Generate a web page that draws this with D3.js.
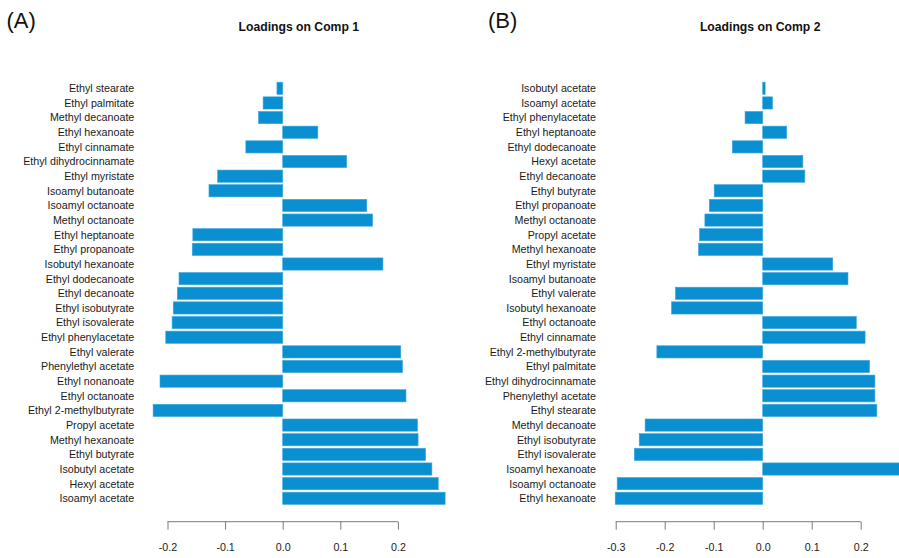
<!DOCTYPE html>
<html>
<head>
<meta charset="utf-8">
<script src="https://cdn.jsdelivr.net/npm/d3@7"></script>
<style>
  html, body { margin: 0; padding: 0; background: #fff; }
  svg { display: block; font-family: "Liberation Sans", Arial, sans-serif; }
</style>
</head>
<body>
<svg id="chart" width="899" height="558"></svg>
<script>
// Loadings on component 1 (top to bottom)
const comp1Names = [
  "Ethyl stearate", "Ethyl palmitate", "Methyl decanoate", "Ethyl hexanoate",
  "Ethyl cinnamate", "Ethyl dihydrocinnamate", "Ethyl myristate", "Isoamyl butanoate",
  "Isoamyl octanoate", "Methyl octanoate", "Ethyl heptanoate", "Ethyl propanoate",
  "Isobutyl hexanoate", "Ethyl dodecanoate", "Ethyl decanoate", "Ethyl isobutyrate",
  "Ethyl isovalerate", "Ethyl phenylacetate", "Ethyl valerate", "Phenylethyl acetate",
  "Ethyl nonanoate", "Ethyl octanoate", "Ethyl 2-methylbutyrate", "Propyl acetate",
  "Methyl hexanoate", "Ethyl butyrate", "Isobutyl acetate", "Hexyl acetate", "Isoamyl acetate"
];
const comp1Values = [
  -0.010, -0.034, -0.042, 0.061,
  -0.064, 0.111, -0.113, -0.128,
  0.146, 0.156, -0.156, -0.157,
  0.174, -0.180, -0.183, -0.190,
  -0.192, -0.203, 0.205, 0.208,
  -0.213, 0.214, -0.225, 0.234,
  0.235, 0.248, 0.259, 0.270, 0.282
];
const comp1Ticks = [-0.2, -0.1, 0.0, 0.1, 0.2];

// Loadings on component 2 (top to bottom)
const comp2Names = [
  "Isobutyl acetate", "Isoamyl acetate", "Ethyl phenylacetate", "Ethyl heptanoate",
  "Ethyl dodecanoate", "Hexyl acetate", "Ethyl decanoate", "Ethyl butyrate",
  "Ethyl propanoate", "Methyl octanoate", "Propyl acetate", "Methyl hexanoate",
  "Ethyl myristate", "Isoamyl butanoate", "Ethyl valerate", "Isobutyl hexanoate",
  "Ethyl octanoate", "Ethyl cinnamate", "Ethyl 2-methylbutyrate", "Ethyl palmitate",
  "Ethyl dihydrocinnamate", "Phenylethyl acetate", "Ethyl stearate", "Methyl decanoate",
  "Ethyl isobutyrate", "Ethyl isovalerate", "Isoamyl hexanoate", "Isoamyl octanoate",
  "Ethyl hexanoate"
];
const comp2Values = [
  0.005, 0.020, -0.036, 0.049,
  -0.062, 0.082, 0.086, -0.099,
  -0.109, -0.118, -0.129, -0.131,
  0.143, 0.174, -0.178, -0.186,
  0.191, 0.209, -0.216, 0.218,
  0.229, 0.229, 0.233, -0.240,
  -0.252, -0.262, 0.300, -0.297,
  -0.301
];
const comp2Ticks = [-0.3, -0.2, -0.1, 0.0, 0.1, 0.2];

const svg = d3.select("#chart");
const barColor = "#0A8FD1";
const axisColor = "#7a7a7a";
const textColor = "#1a1a1a";

function panel(cfg) {
  const g = svg.append("g");

  const x = d3.scaleLinear().domain(cfg.domain).range(cfg.range);
  const y = d3.scalePoint().domain(cfg.names).range([88.3, 498.3]);
  const bh = y.step() / 1.2;

  const data = cfg.names.map((n, i) => ({ name: n, value: cfg.values[i] }));

  g.selectAll("rect.bar").data(data).enter().append("rect")
    .attr("class", "bar")
    .attr("x", d => Math.min(x(0), x(d.value)))
    .attr("width", d => Math.abs(x(d.value) - x(0)))
    .attr("y", d => y(d.name) - bh / 2)
    .attr("height", bh)
    .attr("fill", barColor)
    .attr("stroke", "#3aa6dc")
    .attr("stroke-width", 0.6);

  g.selectAll("text.lab").data(data).enter().append("text")
    .attr("class", "lab")
    .attr("x", cfg.labelX)
    .attr("y", d => y(d.name))
    .attr("dy", "0.36em")
    .attr("text-anchor", "end")
    .attr("font-size", "10.7px")
    .attr("fill", textColor)
    .text(d => d.name);

  // value axis below the bars
  const axisY = 521.7;
  const axis = d3.axisBottom(x)
    .tickValues(cfg.ticks)
    .tickFormat(d3.format(".1f"))
    .tickSize(8)
    .tickPadding(14);
  const ag = g.append("g").attr("transform", `translate(0,${axisY})`).call(axis);
  ag.select(".domain").attr("stroke", axisColor).attr("d",
    `M${x(cfg.ticks[0])},0H${x(cfg.ticks[cfg.ticks.length - 1])}`);
  ag.selectAll(".tick line").attr("stroke", axisColor);
  ag.selectAll(".tick text")
    .attr("font-size", "10.7px")
    .attr("font-family", "Liberation Sans, Arial, sans-serif")
    .attr("fill", textColor)
    .text(d => d3.format(".1f")(d).replace("−", "-"));

  g.append("text")
    .attr("x", cfg.titleX)
    .attr("y", 30.5)
    .attr("text-anchor", "middle")
    .attr("font-size", "12.2px")
    .attr("font-weight", "bold")
    .attr("fill", "#111")
    .text(cfg.title);

  g.append("text")
    .attr("x", cfg.tagX)
    .attr("y", 27.5)
    .attr("font-size", "22px")
    .attr("fill", "#111")
    .text(cfg.tag);
}

panel({
  names: comp1Names, values: comp1Values, ticks: comp1Ticks,
  domain: [-0.2, 0.2], range: [167.5, 397.9],
  labelX: 134.3, titleX: 298.8, title: "Loadings on Comp 1",
  tagX: 6.5, tag: "(A)"
});

panel({
  names: comp2Names, values: comp2Values, ticks: comp2Ticks,
  domain: [-0.3, 0.2], range: [615.7, 860.7],
  labelX: 596, titleX: 760.2, title: "Loadings on Comp 2",
  tagX: 488, tag: "(B)"
});
</script>
</body>
</html>
